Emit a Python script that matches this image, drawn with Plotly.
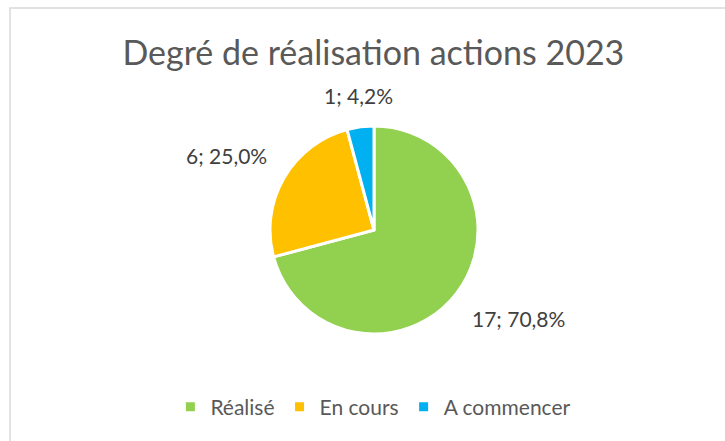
import math
import plotly.graph_objects as go

# ---- data ----
labels = ["Réalisé", "En cours", "A commencer"]
values = [17, 6, 1]
colors = ["#92D050", "#FFC000", "#00B0F0"]
title_text = "Degré de réalisation actions 2023"

# ---- layout geometry ----
W, H = 725, 441
pie_cx_px, pie_cy_px, pie_r_px = 374, 230, 104
label_gap_px = 17

dom_x = [(pie_cx_px - pie_r_px) / W, (pie_cx_px + pie_r_px) / W]
dom_y = [1 - (pie_cy_px + pie_r_px) / H, 1 - (pie_cy_px - pie_r_px) / H]

fig = go.Figure(go.Pie(
    labels=labels,
    values=values,
    marker=dict(colors=colors, line=dict(color="white", width=3)),
    sort=False,
    direction="clockwise",
    rotation=0,
    textinfo="none",
    hoverinfo="label+value+percent",
    domain=dict(x=dom_x, y=dom_y),
))

# data labels placed outside slice ends (Excel "outside end" style)
total = sum(values)
cum = 0
annotations = []
for v in values:
    mid = (cum + v / 2) / total * 2 * math.pi
    cum += v
    R = pie_r_px + label_gap_px
    s, c = math.sin(mid), math.cos(mid)
    px = pie_cx_px + R * s
    py = pie_cy_px - R * c
    xa = "center" if abs(s) < 0.3 else ("left" if s > 0 else "right")
    ya = "middle" if abs(c) < 0.3 else ("bottom" if c > 0 else "top")
    pct = v / total * 100
    txt = f"{v}; {pct:.1f}%".replace(".", ",")
    annotations.append(dict(
        x=px / W, y=1 - py / H, xref="paper", yref="paper",
        text=txt, showarrow=False, xanchor=xa, yanchor=ya,
        font=dict(family="Lato", size=21, color="#404040"),
    ))

fig.update_layout(
    width=W, height=H,
    margin=dict(l=0, r=0, t=0, b=0),
    paper_bgcolor="white",
    plot_bgcolor="white",
    title=dict(text=title_text, x=0.515, xanchor="center",
               y=1 - 53 / H, yanchor="middle",
               font=dict(family="Lato", size=34, color="#595959")),
    showlegend=True,
    legend=dict(orientation="h", x=0.515, xanchor="center",
                y=1 - 407 / H, yanchor="middle",
                font=dict(family="Lato", size=21, color="#595959"),
                itemwidth=30, traceorder="normal"),
    annotations=annotations,
    shapes=[dict(type="rect", xref="paper", yref="paper",
                 x0=10 / W, x1=1.05, y0=-0.05, y1=1 - 8 / H,
                 line=dict(color="#D9D9D9", width=1.5))],
)

fig.write_html(
    "out.html",
    config={"displayModeBar": False},
    post_script="document.body.style.margin='0';document.body.style.overflow='hidden';",
)
